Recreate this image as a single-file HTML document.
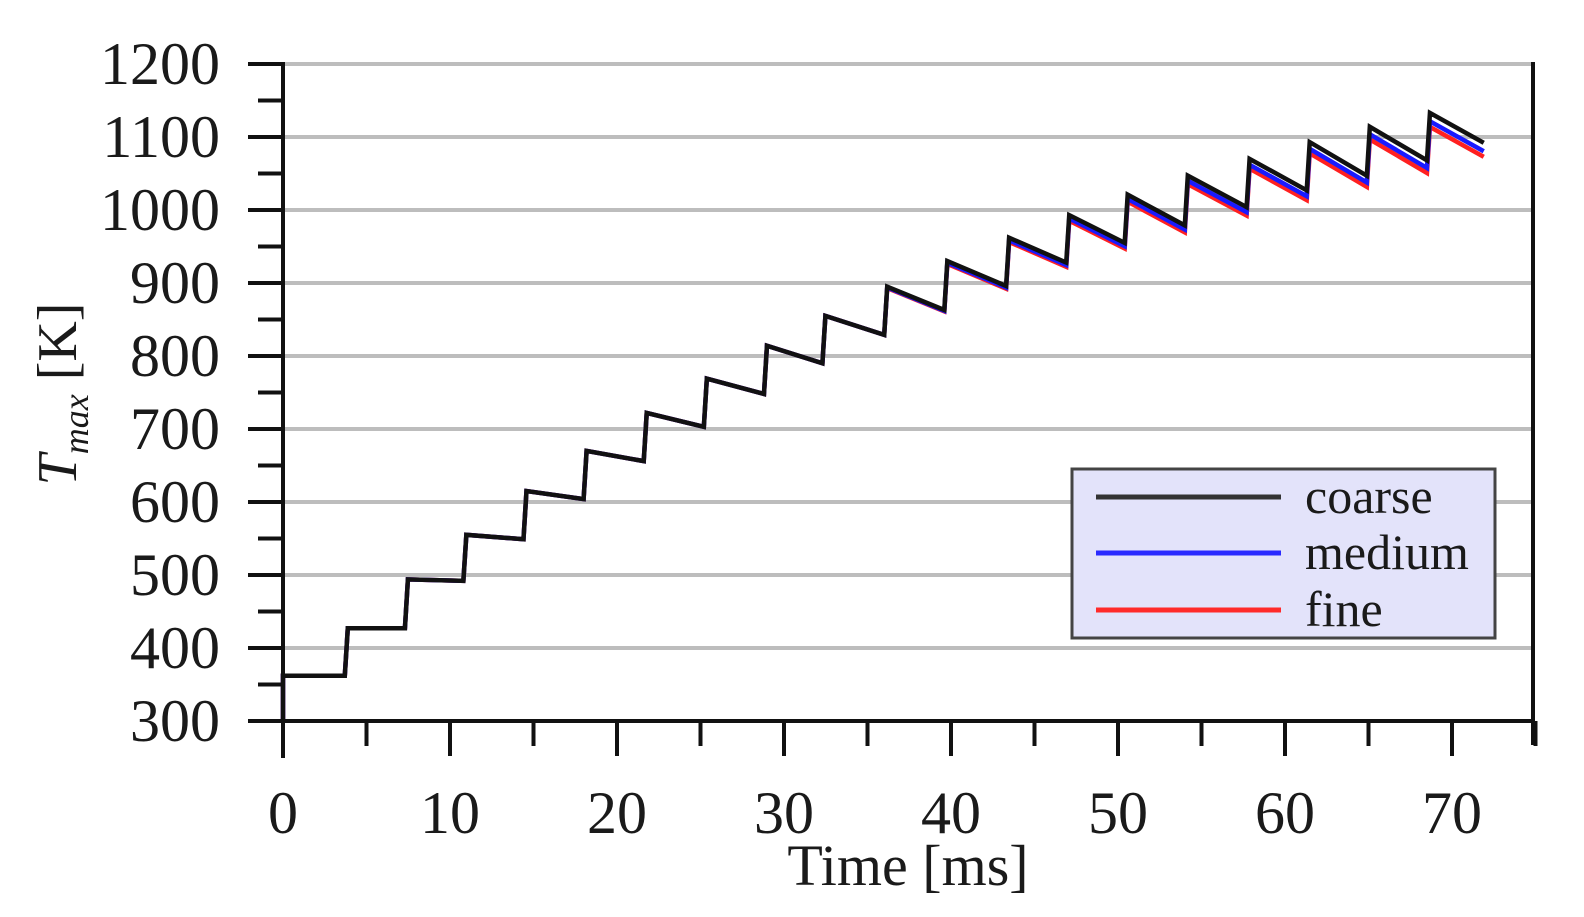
<!DOCTYPE html>
<html><head><meta charset="utf-8"><style>
html,body{margin:0;padding:0;background:#fff;}
svg{display:block;}
text{font-family:"Liberation Serif",serif;fill:#1a1a1a;}
</style></head><body>
<svg id="s" width="1584" height="917" viewBox="0 0 1584 917" xmlns="http://www.w3.org/2000/svg">
<g id="grid" stroke="#bdbdbd" stroke-width="4"></g>
<g id="series" fill="none" stroke-width="4.5" stroke-linejoin="miter"></g>
<g id="axes" stroke="#111" stroke-width="4"></g>
<g id="labels" font-size="60"></g>
<text x="0" y="0" font-size="56" transform="translate(76,394) rotate(-90)" text-anchor="middle"><tspan font-style="italic">T</tspan><tspan font-style="italic" font-size="36" dy="12">max</tspan><tspan dy="-12"> [K]</tspan></text>
<text x="908" y="885" font-size="58" text-anchor="middle">Time [ms]</text>
<rect x="1072" y="469" width="423" height="169" fill="#e3e3fa" stroke="#444" stroke-width="3"/>
<line x1="1096" y1="497" x2="1281" y2="497" stroke="#333" stroke-width="5"/>
<line x1="1096" y1="553" x2="1281" y2="553" stroke="#2a2aff" stroke-width="5"/>
<line x1="1096" y1="610" x2="1281" y2="610" stroke="#ff2a2a" stroke-width="5"/>
<text x="1305" y="513" font-size="50">coarse</text>
<text x="1305" y="569" font-size="50">medium</text>
<text x="1305" y="626" font-size="50">fine</text>
</svg>
<script>
var ns="http://www.w3.org/2000/svg";
function el(p,t,a){var e=document.createElementNS(ns,t);for(var k in a)e.setAttribute(k,a[k]);p.appendChild(e);return e;}
var X0=283,SX=16.7,Y0=721,SY=0.73;
function X(t){return X0+t*SX;} function Y(v){return Y0-(v-300)*SY;}
var grid=document.getElementById('grid'),axes=document.getElementById('axes'),lab=document.getElementById('labels');
for(var v=400;v<=1200;v+=100){el(grid,'line',{x1:284,y1:Y(v),x2:1533,y2:Y(v)});}
el(axes,'line',{x1:283,y1:62,x2:283,y2:758});
el(axes,'line',{x1:1533,y1:62,x2:1533,y2:745});
el(axes,'line',{x1:248,y1:721,x2:1535,y2:721});
for(var v=300;v<=1200;v+=50){var maj=v%100==0;el(axes,'line',{x1:maj?248:258,y1:Y(v),x2:283,y2:Y(v)});
 if(maj){var t=el(lab,'text',{x:220,y:Y(v)+20,'text-anchor':'end'});t.textContent=v;}}
for(var t=5;t<=75;t+=5){var maj=t%10==0;el(axes,'line',{x1:X(t),y1:721,x2:X(t),y2:maj?756:746});}
for(var t=0;t<=70;t+=10){var tx=el(lab,'text',{x:X(t),y:833,'text-anchor':'middle'});tx.textContent=t;}
var jumps=[0,3.7,7.3,10.8,14.4,18,21.6,25.2,28.8,32.3,36,39.6,43.3,46.9,50.4,54,57.7,61.3,64.9,68.5,71.9];
var seg=[[362,362],[427,427],[494,492],[555,549],[615,604],[670,656],[722,703],[769,748],[814,790],[855,829],[895,863],[930,896],[962,928],[993,955],[1021,979],[1047,1004],[1070,1027],[1093,1047],[1114,1068],[1133,1092]];
var ser=document.getElementById('series');
[["#ff2020",1],["#1a1aff",0.6],["#111",0]].forEach(function(c){
 var d="M"+X(0)+","+Y(300);
 for(var i=0;i<seg.length;i++){var off=c[1]*Math.max(0,(i-9))*1.4/SY;
  var a=seg[i][0]-off,b=seg[i][1]-off;
  d+=" L"+(X(jumps[i])+(i?3:0))+","+Y(a)+" L"+X(jumps[i+1])+","+Y(b);}
 el(ser,'path',{d:d,stroke:c[0]});});
</script>
</body></html>
